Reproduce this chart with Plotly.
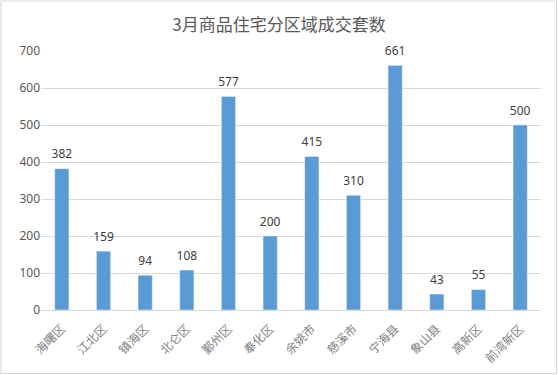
import plotly.graph_objects as go

categories = ["海曙区", "江北区", "镇海区", "北仑区", "鄞州区", "奉化区", "余姚市", "慈溪市", "宁海县", "象山县", "高新区", "前湾新区"]
values = [382, 159, 94, 108, 577, 200, 415, 310, 661, 43, 55, 500]
y_ticks = [0, 100, 200, 300, 400, 500, 600, 700]

W, H = 558, 375
ml, mr, mt, mb = 41, 17, 51, 65
pw, ph = W - ml - mr, H - mt - mb

fig = go.Figure()
fig.add_trace(go.Bar(
    x=categories, y=values,
    marker_color="#5B9BD5",
    width=0.34,
    hoverinfo="x+y",
))
fig.add_trace(go.Scatter(
    x=categories, y=values, mode="markers+text",
    marker=dict(size=10, opacity=0),
    text=[str(v) for v in values], textposition="top center",
    textfont=dict(size=12, color="#404040", family="Noto Sans, DejaVu Sans"),
    cliponaxis=False, hoverinfo="skip",
))

fig.update_layout(
    width=W, height=H,
    margin=dict(l=ml, r=mr, t=mt, b=mb),
    paper_bgcolor="white", plot_bgcolor="white",
    title=dict(text="3月商品住宅分区域成交套数", x=0.5, xanchor="center", y=1 - 25 / H, yanchor="middle",
               font=dict(size=17, color="#595959", family="Noto Sans CJK SC")),
    showlegend=False,
    xaxis=dict(range=[-0.5, len(categories) - 0.5], tickangle=-45, ticklabelstandoff=6,
               tickfont=dict(size=12, color="#7f7f7f", family="Noto Sans CJK SC"),
               showgrid=False, showline=True, linecolor="#d9d9d9", ticks="", automargin=False),
    yaxis=dict(range=[0, 700], tickvals=y_ticks, showgrid=True, gridcolor="#d9d9d9",
               zeroline=False, showline=False, ticks="", automargin=False,
               tickfont=dict(size=12, color="#595959", family="Noto Sans, DejaVu Sans")),
    shapes=[dict(type="rect", xref="paper", yref="paper",
                 x0=(1 - ml) / pw, x1=(W - 1.5 - ml) / pw,
                 y0=-(H - 1.5 - mt - ph) / ph, y1=(H - 1 - mb) / ph,
                 line=dict(color="#d9d9d9", width=1.2))],
)

fig.write_html("out.html", config={"displayModeBar": False},
               post_script="document.body.style.margin='0';")
